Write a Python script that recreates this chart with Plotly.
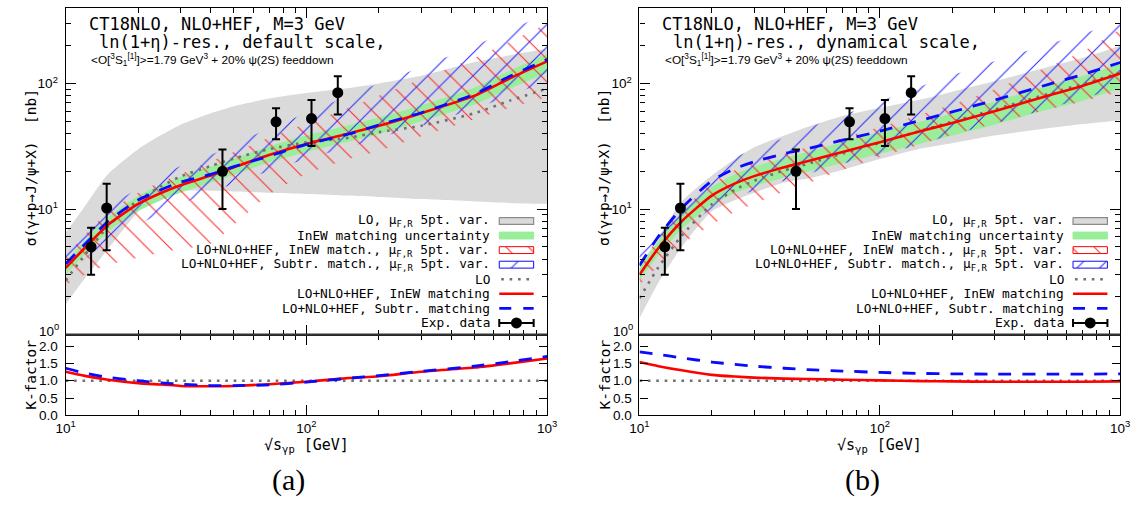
import math
import plotly.graph_objects as go

W, H = 1141, 509

# ---------------------------------------------------------------- data
sqrt_s = [10, 12, 15, 20, 25, 30, 40, 50, 70, 100, 150, 200, 300, 500, 700, 1000]

# panel (a): default scale
a_lo_band_low = [1.75, 2.8, 4.8, 9.5, 13.5, 14.0, 14.0, 13.8, 13.5, 13.2, 12.8, 12.5, 12.0, 11.5, 11.2, 11.0]
a_lo_band_high = [6.5, 10.5, 19, 30, 39, 47, 58, 66, 76, 84, 92, 100, 115, 148, 168, 190]
a_green_low = [3.0, 4.3, 6.6, 9.6, 11.8, 13.5, 16.2, 18.8, 23.5, 28.5, 34.5, 39.5, 50, 68, 91, 122]
a_green_high = [3.8, 5.6, 8.6, 12.7, 15.6, 18, 21.8, 25.3, 31.5, 38.5, 46.5, 53.5, 67, 93, 127, 172]
a_inew_var_low = [2.5, 3.0, 3.6, 4.1, 4.5, 4.8, 5.3, 7.5, 13, 19, 25, 29, 38, 52, 64, 78]
a_inew_var_high = [4.3, 6.2, 9.5, 13.5, 16.5, 19, 24, 28.5, 37, 48, 64, 80, 108, 160, 215, 300]
a_sub_var_low = [3.0, 4.0, 5.5, 7.5, 9.3, 11, 13.5, 16, 20, 25, 31, 37, 46, 63, 80, 104]
a_sub_var_high = [5.5, 7.5, 10.5, 14.5, 18.5, 22, 27, 33, 44, 58, 80, 100, 135, 200, 265, 365]
a_lo = [2.7, 4.3, 7.3, 11.8, 15.2, 18.2, 22, 25.3, 30, 34, 37, 41, 46, 58, 73, 91]
a_inew = [3.4, 4.9, 7.5, 11, 13.5, 15.5, 18.5, 21.5, 27, 33, 40, 46, 58, 80, 110, 150]
a_subtr = [3.67, 5.24, 8.0, 11.8, 14.3, 16.4, 18.9, 21.8, 26.4, 32.7, 39.6, 46.8, 58.5, 82.3, 114, 155]
a_k_inew = [1.26, 1.14, 1.03, 0.93, 0.89, 0.85, 0.84, 0.85, 0.90, 0.97, 1.08, 1.13, 1.26, 1.38, 1.50, 1.64]
a_k_subtr = [1.36, 1.22, 1.10, 1.00, 0.94, 0.90, 0.86, 0.86, 0.88, 0.96, 1.07, 1.15, 1.27, 1.42, 1.55, 1.70]

# panel (b): dynamical scale
b_lo_band_low = [1.35, 2.6, 5.0, 9.6, 11.8, 13.5, 16.3, 17.5, 20.5, 25, 30.5, 33.5, 38.5, 44, 47.5, 51]
b_lo_band_high = [3.5, 6, 11.5, 18.5, 25, 31, 38.5, 45, 55, 64, 75, 86, 104, 135, 160, 200]
b_green_low = [2.7, 4.3, 6.9, 10.8, 13.4, 15.2, 17.8, 19.8, 23.3, 27.6, 33.5, 38.5, 47, 62, 73, 91]
b_green_high = [3.4, 5.6, 9.3, 15, 19, 21.7, 25.5, 28.5, 34, 41, 50, 58, 72, 96, 115, 143]
b_inew_var_low = [2.5, 3.5, 5.2, 7.5, 9.5, 11, 13.8, 16, 20.5, 26, 33, 39, 48, 62, 72, 86]
b_inew_var_high = [3.6, 5.9, 9.8, 16, 20.5, 23.5, 27.5, 31, 37, 45, 57, 68, 90, 135, 180, 270]
b_sub_var_low = [3.0, 4.5, 6.8, 10, 12.5, 14, 16.8, 19, 23, 27, 33, 39, 48, 63, 76, 92]
b_sub_var_high = [5.0, 8.0, 13, 21, 26, 30, 37, 44, 56, 72, 96, 116, 150, 205, 250, 305]
b_lo = [1.95, 3.45, 6.15, 10.9, 14.3, 16.8, 20.3, 22.9, 27.7, 33.7, 42.4, 49.5, 61.9, 82.5, 99, 122]
b_inew = [3.0, 4.9, 8.0, 12.8, 16, 18.3, 21.5, 24, 28.5, 34, 42, 48.5, 60, 80, 96, 120]
b_subtr = [3.56, 6.07, 10.2, 16.8, 21, 23.8, 27.6, 30.2, 35.4, 41.7, 51.3, 59.4, 73.6, 98.1, 118, 147]
b_k_inew = [1.54, 1.42, 1.30, 1.17, 1.12, 1.09, 1.06, 1.05, 1.03, 1.01, 0.99, 0.98, 0.97, 0.97, 0.97, 0.98]
b_k_subtr = [1.83, 1.76, 1.66, 1.54, 1.47, 1.42, 1.36, 1.32, 1.28, 1.24, 1.21, 1.20, 1.19, 1.19, 1.19, 1.20]

k_lo = [1.0, 1.0, 1.0, 1.0, 1.0, 1.0, 1.0, 1.0, 1.0, 1.0, 1.0, 1.0, 1.0, 1.0, 1.0, 1.0]

# experimental data (same in both panels)
exp_sqrt_s = [12.75, 14.8, 44.8, 74.8, 105, 135]
exp_sigma = [5.0, 10.2, 20.0, 49.5, 52.5, 84.5]
exp_err_up = [2.1, 5.7, 9.8, 14.0, 21.5, 29.5]
exp_err_dn = [2.0, 5.5, 10.0, 13.5, 20.7, 28.0]

# ticks
x_tick_vals = [10, 100, 1000]
x_tick_text = ["10<sup>1</sup>", "10<sup>2</sup>", "10<sup>3</sup>"]
y_tick_vals = [1, 10, 100]
y_tick_text = ["", "10<sup>1</sup>", "10<sup>2</sup>"]
y_bottom_label = "10<sup>0</sup>"          # drawn slightly raised, as in the original
k_tick_vals = [0.0, 0.5, 1.0, 1.5, 2.0]
k_tick_text = ["0.0", "0.5", "1.0", "1.5", "2.0"]

# texts
title_line1 = "CT18NLO, NLO+HEF, M=3 GeV"
title_line2_a = "ln(1+η)-res., default scale,"
title_line2_b = "ln(1+η)-res., dynamical scale,"
title_line3 = "&lt;O[<sup>3</sup>S<sub>1</sub><sup>[1]</sup>]&gt;=1.79 GeV<sup>3</sup> + 20% ψ(2S) feeddown"
y_title = "σ(γ+p→J/ψ+X)  [nb]"
k_title = "K-factor"
x_title = "√s<sub>γp</sub> [GeV]"
panel_tags = ["(a)", "(b)"]
legend_labels = [
    "LO, μ<sub>F,R</sub> 5pt. var.",
    "InEW matching uncertainty",
    "LO+NLO+HEF, InEW match., μ<sub>F,R</sub> 5pt. var.",
    "LO+NLO+HEF, Subtr. match., μ<sub>F,R</sub> 5pt. var.",
    "LO",
    "LO+NLO+HEF, InEW matching",
    "LO+NLO+HEF, Subtr. matching",
    "Exp. data",
]

# ---------------------------------------------------------------- style / geometry
MONO = "DejaVu Sans Mono"
SANS = "Liberation Sans"
SERIF = "Liberation Serif"
GRAY_FILL = "#dadada"
GRAY_EDGE = "#8a8a8a"
GREEN_FILL = "#9aee9a"
RED = "#ff0000"
BLUE = "#0a0aff"
HATCH_RED = "#ff2a2a"
HATCH_BLUE = "#2a2aff"
DOT_GRAY = "#707070"
DOT_DASH = "2.6px,5.8px"
BLUE_DASH = "13px,11px"
HATCH_SIZE = 16
HATCH_SOLID = 0.065
TICK_FONT = dict(family=SANS, size=13.5, color="black")

Y_TOP, Y_MID, Y_BOT = 8.0, 340.0, 422.0
PANEL_X = [(56.7, 546.7), (640.7, 1130.0)]
K_MAX = 2.33
Y_MAX = 400.0


def px(x):
    return x / W


def py(y):
    return 1.0 - y / H


minor_x = [m * 10 ** e for e in (1, 2) for m in range(2, 10)]
minor_y = [m * 10 ** e for e in (0, 1, 2) for m in range(2, 10) if m * 10 ** e < Y_MAX]

fig = go.Figure()

panels = [
    dict(xm="x", ym="y", xk="x2", yk="y2",
         lo_lo=a_lo_band_low, lo_hi=a_lo_band_high, g_lo=a_green_low, g_hi=a_green_high,
         r_lo=a_inew_var_low, r_hi=a_inew_var_high, b_lo=a_sub_var_low, b_hi=a_sub_var_high,
         lo=a_lo, inew=a_inew, subtr=a_subtr, k_inew=a_k_inew, k_subtr=a_k_subtr,
         line2=title_line2_a),
    dict(xm="x3", ym="y3", xk="x4", yk="y4",
         lo_lo=b_lo_band_low, lo_hi=b_lo_band_high, g_lo=b_green_low, g_hi=b_green_high,
         r_lo=b_inew_var_low, r_hi=b_inew_var_high, b_lo=b_sub_var_low, b_hi=b_sub_var_high,
         lo=b_lo, inew=b_inew, subtr=b_subtr, k_inew=b_k_inew, k_subtr=b_k_subtr,
         line2=title_line2_b),
]

SPL = dict(shape="spline", smoothing=0.6)


def red_hatch():
    return dict(shape="\\", fgcolor=HATCH_RED, bgcolor="rgba(0,0,0,0)", fgopacity=1,
                size=HATCH_SIZE, solidity=HATCH_SOLID)


def blue_hatch():
    return dict(shape="/", fgcolor=HATCH_BLUE, bgcolor="rgba(0,0,0,0)", fgopacity=1,
                size=HATCH_SIZE, solidity=HATCH_SOLID)


def add_band(xa, ya, low, high, **fillkw):
    fig.add_trace(go.Scatter(x=sqrt_s, y=low, xaxis=xa, yaxis=ya, mode="lines",
                             line=dict(width=0, **SPL), hoverinfo="skip", showlegend=False))
    fig.add_trace(go.Scatter(x=sqrt_s, y=high, xaxis=xa, yaxis=ya, mode="lines",
                             line=dict(width=0, **SPL), fill="tonexty", hoverinfo="skip",
                             showlegend=False, **fillkw))


for p in panels:
    xm, ym, xk, yk = p["xm"], p["ym"], p["xk"], p["yk"]
    add_band(xm, ym, p["lo_lo"], p["lo_hi"], fillcolor=GRAY_FILL)
    add_band(xm, ym, p["g_lo"], p["g_hi"], fillcolor=GREEN_FILL)
    add_band(xm, ym, p["r_lo"], p["r_hi"], fillcolor="rgba(0,0,0,0)", fillpattern=red_hatch())
    add_band(xm, ym, p["b_lo"], p["b_hi"], fillcolor="rgba(0,0,0,0)", fillpattern=blue_hatch())
    fig.add_trace(go.Scatter(x=sqrt_s, y=p["lo"], xaxis=xm, yaxis=ym, mode="lines",
                             line=dict(color=DOT_GRAY, width=2.6, dash=DOT_DASH, **SPL), showlegend=False))
    fig.add_trace(go.Scatter(x=sqrt_s, y=p["inew"], xaxis=xm, yaxis=ym, mode="lines",
                             line=dict(color=RED, width=2.6, **SPL), showlegend=False))
    fig.add_trace(go.Scatter(x=sqrt_s, y=p["subtr"], xaxis=xm, yaxis=ym, mode="lines",
                             line=dict(color=BLUE, width=2.8, dash=BLUE_DASH, **SPL), showlegend=False))
    fig.add_trace(go.Scatter(x=exp_sqrt_s, y=exp_sigma, xaxis=xm, yaxis=ym, mode="markers",
                             marker=dict(size=11, color="black"),
                             error_y=dict(type="data", symmetric=False, array=exp_err_up,
                                          arrayminus=exp_err_dn, color="black", thickness=2, width=4),
                             showlegend=False))
    # K-factor panel
    fig.add_trace(go.Scatter(x=sqrt_s, y=k_lo, xaxis=xk, yaxis=yk, mode="lines",
                             line=dict(color=DOT_GRAY, width=2.6, dash=DOT_DASH), showlegend=False))
    fig.add_trace(go.Scatter(x=sqrt_s, y=p["k_inew"], xaxis=xk, yaxis=yk, mode="lines",
                             line=dict(color=RED, width=2.6, **SPL), showlegend=False))
    fig.add_trace(go.Scatter(x=sqrt_s, y=p["k_subtr"], xaxis=xk, yaxis=yk, mode="lines",
                             line=dict(color=BLUE, width=2.8, dash=BLUE_DASH, **SPL), showlegend=False))

# ---------------------------------------------------------------- legend keys (overlay axis in pixels)
LEG_TEXT_DX = 434.3
LEG_BOX_DX = (441.3, 476.3)
LEG_Y0, LEG_DY = 224.5, 14.8
BOX_H = 7.0

annotations = []
shapes = []

for i, (x0, x1) in enumerate(PANEL_X):
    bx0, bx1 = x0 + LEG_BOX_DX[0], x0 + LEG_BOX_DX[1]
    rows = [LEG_Y0 + k * LEG_DY for k in range(len(legend_labels))]
    for k, lab in enumerate(legend_labels):
        annotations.append(dict(x=px(x0 + LEG_TEXT_DX), y=py(rows[k]), xref="paper", yref="paper",
                                xanchor="right", yanchor="middle", text=lab, showarrow=False,
                                font=dict(family=MONO, size=12.8, color="black")))

    def box(yc):
        return ([bx0, bx1, bx1, bx0, bx0],
                [yc - BOX_H / 2, yc - BOX_H / 2, yc + BOX_H / 2, yc + BOX_H / 2, yc - BOX_H / 2])

    bx, by = box(rows[0])
    fig.add_trace(go.Scatter(x=bx, y=by, xaxis="x5", yaxis="y5", mode="lines", fill="toself",
                             fillcolor=GRAY_FILL, line=dict(color=GRAY_EDGE, width=1.2), showlegend=False))
    bx, by = box(rows[1])
    fig.add_trace(go.Scatter(x=bx, y=by, xaxis="x5", yaxis="y5", mode="lines", fill="toself",
                             fillcolor=GREEN_FILL, line=dict(color=GREEN_FILL, width=1), showlegend=False))
    bx, by = box(rows[2])
    fig.add_trace(go.Scatter(x=bx, y=by, xaxis="x5", yaxis="y5", mode="lines", fill="toself",
                             fillcolor="rgba(0,0,0,0)", line=dict(color=RED, width=1),
                             fillpattern=red_hatch(), showlegend=False))
    bx, by = box(rows[3])
    fig.add_trace(go.Scatter(x=bx, y=by, xaxis="x5", yaxis="y5", mode="lines", fill="toself",
                             fillcolor="rgba(0,0,0,0)", line=dict(color=BLUE, width=1),
                             fillpattern=blue_hatch(), showlegend=False))
    fig.add_trace(go.Scatter(x=[bx0 + 2, bx1], y=[rows[4], rows[4]], xaxis="x5", yaxis="y5", mode="lines",
                             line=dict(color=DOT_GRAY, width=2.6, dash=DOT_DASH), showlegend=False))
    fig.add_trace(go.Scatter(x=[bx0, bx1], y=[rows[5], rows[5]], xaxis="x5", yaxis="y5", mode="lines",
                             line=dict(color=RED, width=2.6), showlegend=False))
    fig.add_trace(go.Scatter(x=[bx0, bx1], y=[rows[6], rows[6]], xaxis="x5", yaxis="y5", mode="lines",
                             line=dict(color=BLUE, width=2.8, dash="12px,12px"), showlegend=False))
    fig.add_trace(go.Scatter(x=[(bx0 + bx1) / 2], y=[rows[7]], xaxis="x5", yaxis="y5", mode="markers",
                             marker=dict(size=11, color="black"),
                             error_x=dict(type="constant", value=(bx1 - bx0) / 2, color="black", thickness=2, width=4),
                             showlegend=False))

    # texts in the panel
    annotations.append(dict(x=px(x0 + 21.3), y=py(24), xref="paper", yref="paper", xanchor="left",
                            yanchor="middle", text=title_line1, showarrow=False,
                            font=dict(family=MONO, size=17, color="black")))
    annotations.append(dict(x=px(x0 + 31.6), y=py(43), xref="paper", yref="paper", xanchor="left",
                            yanchor="middle", text=panels[i]["line2"], showarrow=False,
                            font=dict(family=MONO, size=17, color="black")))
    annotations.append(dict(x=px(x0 + 23.5), y=py(60.5), xref="paper", yref="paper", xanchor="left",
                            yanchor="middle", text=title_line3, showarrow=False,
                            font=dict(family=SANS, size=11.8, color="black")))
    # raised bottom label of the cross-section axis
    annotations.append(dict(x=px(x0 - 5), y=py(Y_MID - 4.5), xref="paper", yref="paper", xanchor="right",
                            yanchor="middle", text=y_bottom_label, showarrow=False, font=TICK_FONT))
    # axis titles
    annotations.append(dict(x=px(x0 - 35.5), y=py((Y_TOP + Y_MID) / 2 - 4), xref="paper", yref="paper",
                            xanchor="center", yanchor="middle", text=y_title, textangle=-90, showarrow=False,
                            font=dict(family=MONO, size=14.5, color="black")))
    annotations.append(dict(x=px(x0 - 35.5), y=py((Y_MID + Y_BOT) / 2), xref="paper", yref="paper",
                            xanchor="center", yanchor="middle", text=k_title, textangle=-90, showarrow=False,
                            font=dict(family=MONO, size=14.5, color="black")))
    annotations.append(dict(x=px((x0 + x1) / 2), y=py(453), xref="paper", yref="paper",
                            xanchor="center", yanchor="middle", text=x_title, showarrow=False,
                            font=dict(family=MONO, size=15, color="black")))
    annotations.append(dict(x=px((x0 + x1) / 2 - 18), y=py(488), xref="paper", yref="paper",
                            xanchor="center", yanchor="middle", text=panel_tags[i], showarrow=False,
                            font=dict(family=SERIF, size=30, color="black")))
    shapes.append(dict(type="line", xref="paper", yref="paper", x0=px(x0), x1=px(x1), y0=py(Y_MID), y1=py(Y_MID),
                       line=dict(color="#333333", width=2.2)))

# ---------------------------------------------------------------- axes
base = dict(showline=True, linecolor="black", linewidth=1.2, mirror="allticks", ticks="inside",
            tickcolor="black", tickwidth=1.1, showgrid=False, zeroline=False, tickfont=TICK_FONT)
minor_x_cfg = dict(tickmode="array", tickvals=minor_x, ticks="inside", ticklen=5, tickcolor="black",
                   tickwidth=1, showgrid=False)
minor_y_cfg = dict(tickmode="array", tickvals=minor_y, ticks="inside", ticklen=5, tickcolor="black",
                   tickwidth=1, showgrid=False)

layout_axes = {}
names = [("xaxis", "yaxis", "xaxis2", "yaxis2", "y", "x", "y2", "x2"),
         ("xaxis3", "yaxis3", "xaxis4", "yaxis4", "y3", "x3", "y4", "x4")]
for (x0, x1), (xmn, ymn, xkn, ykn, ya, xa, yka, xka) in zip(PANEL_X, names):
    dom = [px(x0), px(x1)]
    layout_axes[xmn] = dict(base, domain=dom, anchor=ya, type="log", range=[1, 3], tickmode="array",
                            tickvals=x_tick_vals, ticklen=10, showticklabels=False, minor=minor_x_cfg)
    layout_axes[ymn] = dict(base, domain=[py(Y_MID), py(Y_TOP)], anchor=xa, type="log",
                            range=[0, math.log10(Y_MAX)], tickmode="array", tickvals=y_tick_vals,
                            ticktext=y_tick_text, ticklen=10, minor=minor_y_cfg, ticklabelstandoff=4)
    layout_axes[xkn] = dict(base, domain=dom, anchor=yka, type="log", range=[1, 3], tickmode="array",
                            tickvals=x_tick_vals, ticktext=x_tick_text, ticklen=10, minor=minor_x_cfg)
    layout_axes[ykn] = dict(base, domain=[py(Y_BOT), py(Y_MID)], anchor=xka, range=[0, K_MAX],
                            tickmode="array", tickvals=k_tick_vals, ticktext=k_tick_text, ticklen=8,
                            ticklabelstandoff=4)

layout_axes["xaxis5"] = dict(domain=[0, 1], range=[0, W], visible=False, anchor="y5", fixedrange=True)
layout_axes["yaxis5"] = dict(domain=[0, 1], range=[H, 0], visible=False, anchor="x5", fixedrange=True)

fig.update_layout(
    width=W, height=H, margin=dict(l=0, r=0, t=0, b=0),
    paper_bgcolor="white", plot_bgcolor="rgba(0,0,0,0)",
    showlegend=False, annotations=annotations, shapes=shapes,
    **layout_axes,
)

fig.write_html("out.html")
